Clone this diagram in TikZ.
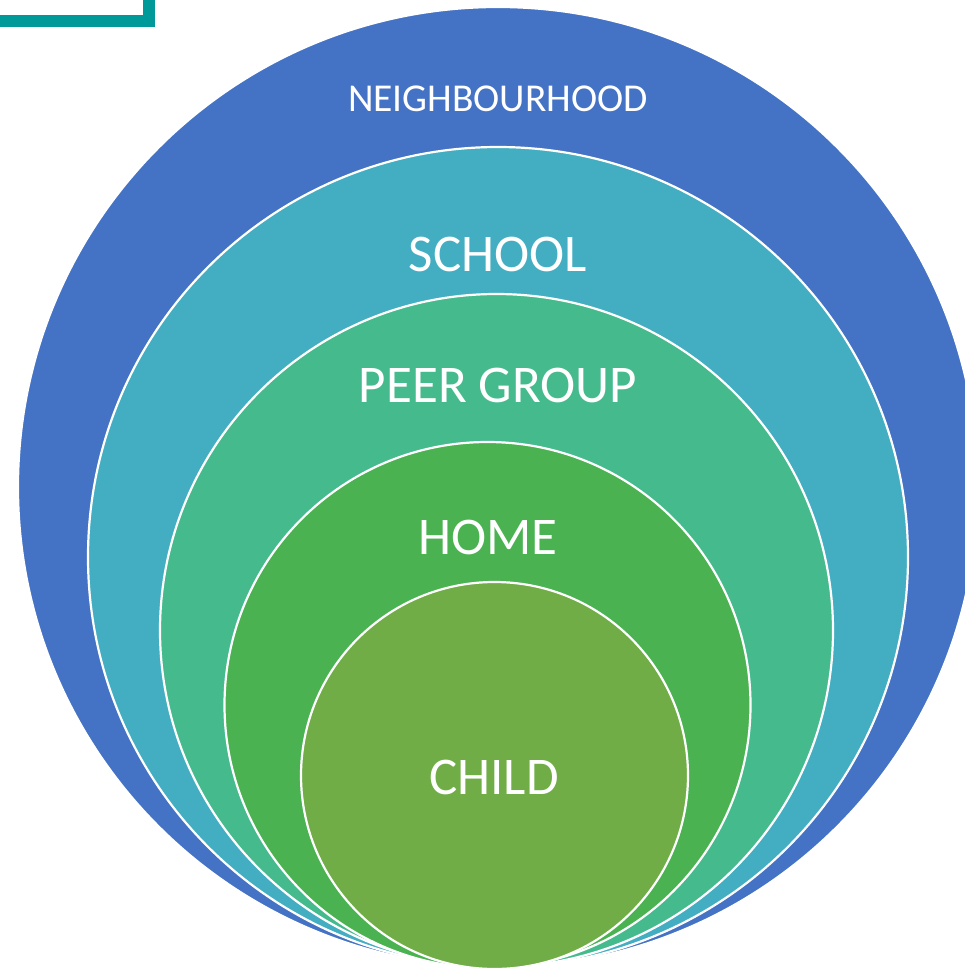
\documentclass[tikz,border=0pt]{standalone}
\usepackage{fontspec}
\setmainfont{Carlito}
\definecolor{cNeigh}{HTML}{4472C4}
\definecolor{cSchool}{HTML}{43AEC1}
\definecolor{cPeer}{HTML}{45BA8D}
\definecolor{cHome}{HTML}{4AB251}
\definecolor{cChild}{HTML}{70AD47}
\definecolor{cFrame}{HTML}{009999}
\tikzset{
  ring/.style={circle, draw=white, line width=2.2pt, inner sep=0pt, outer sep=0pt},
  lbl/.style={text=white, inner sep=0pt, font=\fontsize{53}{60}\selectfont},
  lblsmall/.style={text=white, inner sep=0pt, font=\fontsize{39.5}{46}\selectfont},
}
\begin{document}
\begin{tikzpicture}[x=1pt,y=-1pt]
\useasboundingbox (0,0) rectangle (965,969);
\clip (0,0) rectangle (965,969);
\draw[cFrame, line width=12pt] (-100,-100) rectangle (149,21);
\node[ring, fill=cNeigh, minimum size=960pt] (neigh) at (498,487) {};
\node[ring, fill=cSchool, minimum size=820pt] (school) at (498,557) {};
\node[ring, fill=cPeer, minimum size=673pt] (peer) at (496.5,630.5) {};
\node[ring, fill=cHome, minimum size=526pt] (home) at (487.5,705) {};
\node[ring, fill=cChild, minimum size=387pt] (child) at (494.5,775.5) {};
\node[lblsmall] (tneigh) at (498,99) {NEIGHBOURHOOD};
\node[lbl] (tschool) at (498,254) {SCHOOL};
\node[lbl] (tpeer) at (498,385) {PEER GROUP};
\node[lbl] (thome) at (488,537) {HOME};
\node[lbl] (tchild) at (494,777) {CHILD};
\end{tikzpicture}
\end{document}
